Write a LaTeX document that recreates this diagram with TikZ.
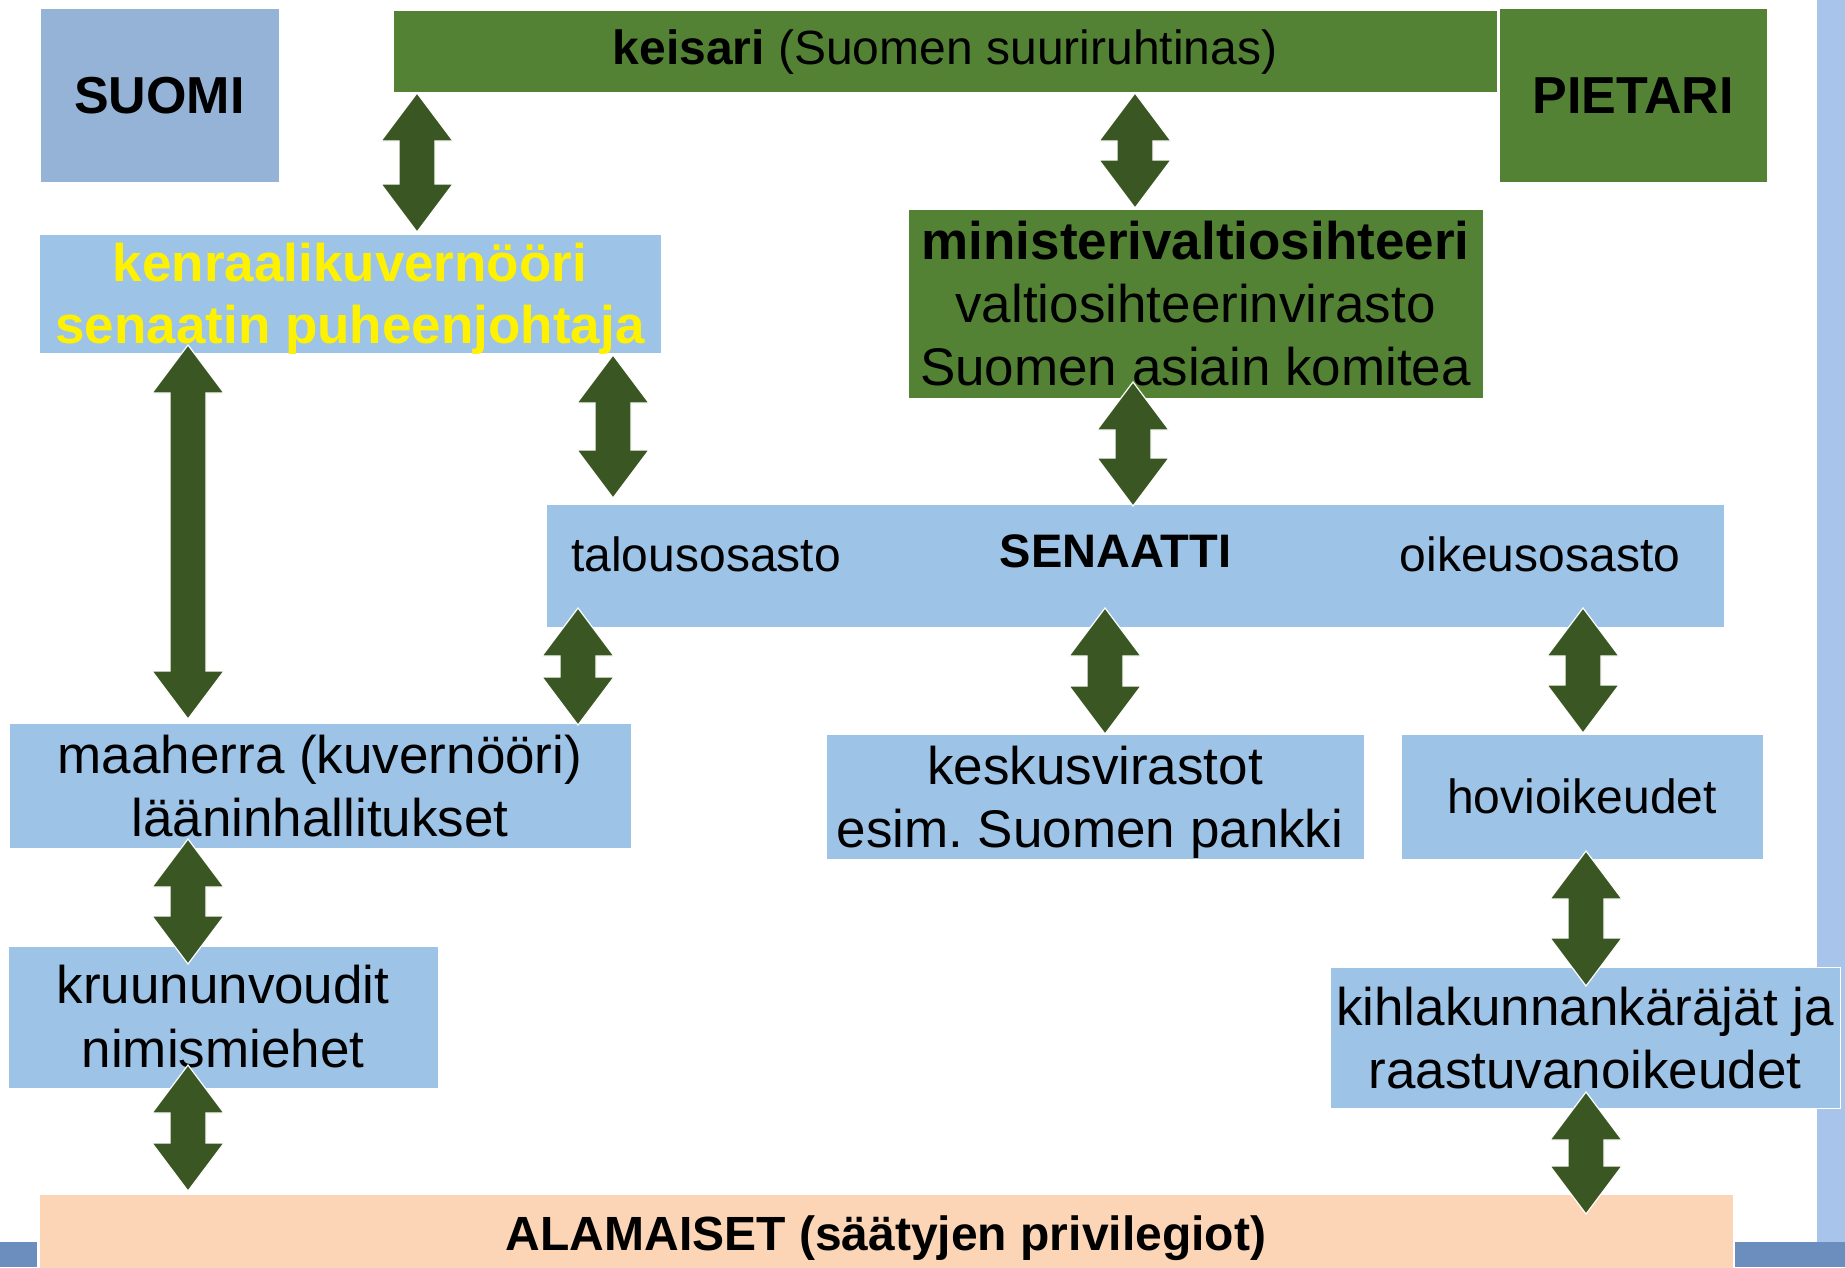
\documentclass[tikz,border=0pt]{standalone}
\usepackage{fontspec}
\setmainfont{Liberation Sans}
\usetikzlibrary{calc}
\frenchspacing
\definecolor{lblue}{HTML}{9DC3E6}
\definecolor{sblue}{HTML}{95B3D7}
\definecolor{dgreen}{HTML}{548235}
\definecolor{agreen}{HTML}{3A5723}
\definecolor{peach}{HTML}{FBD5B5}
\definecolor{stripc}{HTML}{A9C4EB}
\definecolor{dstripc}{HTML}{6B8EBE}
\newcommand\dblarr[2]{%
  \fill[arrowshape] (#1) -- ($(#1)+(36,48)$) -- ($(#1)+(18,48)$) -- ($(#2)+(18,-48)$) -- ($(#2)+(36,-48)$) -- (#2)
   -- ($(#2)+(-36,-48)$) -- ($(#2)+(-18,-48)$) -- ($(#1)+(-18,48)$) -- ($(#1)+(-36,48)$) -- cycle;}
\begin{document}
\begin{tikzpicture}[x=1pt,y=-1pt,
  boxbase/.style={draw=white,line width=1pt,anchor=north west,inner sep=0pt,outer sep=0pt},
  lbox/.style={boxbase,fill=lblue},
  sbox/.style={boxbase,fill=sblue},
  gbox/.style={boxbase,fill=dgreen},
  pbox/.style={boxbase,fill=peach},
  arrowshape/.style={fill=agreen,draw=white,line width=1.2pt,line join=miter},
  tbig/.style={anchor=base,inner sep=0pt,font=\fontsize{53}{60}\selectfont},
  tmid/.style={anchor=base,inner sep=0pt,font=\fontsize{48}{55}\selectfont},
  ttitle/.style={anchor=base,inner sep=0pt,font=\fontsize{52}{60}\selectfont\bfseries},
]
\useasboundingbox (0,0) rectangle (1845,1267);
% frame strips
\fill[stripc] (1817,0) rectangle (1845,1242);
\fill[dstripc] (1735,1242) rectangle (1845,1267);
\fill[dstripc] (0,1242) rectangle (37,1267);

% boxes
\node[sbox,minimum width=239,minimum height=174] (suomi) at (40,8) {};
\node[gbox,minimum width=1104,minimum height=82] (keisari) at (393,10) {};
\node[gbox,minimum width=268,minimum height=174] (pietari) at (1499,8) {};
\node[lbox,minimum width=622,minimum height=119] (kenraali) at (39,234) {};
\node[gbox,minimum width=575,minimum height=189] (ministeri) at (908,209) {};
\node[lbox,minimum width=1178,minimum height=123] (senaatti) at (546,504) {};
\node[lbox,minimum width=622,minimum height=125] (maaherra) at (9,723) {};
\node[lbox,minimum width=538,minimum height=125] (keskus) at (826,734) {};
\node[lbox,minimum width=362,minimum height=125] (hovi) at (1401,734) {};
\node[lbox,minimum width=430,minimum height=142] (kruunu) at (8,946) {};
\node[lbox,minimum width=510,minimum height=141] (kihla) at (1330,967) {};
\node[pbox,minimum width=1694,minimum height=80] (alamaiset) at (39,1194) {};

% texts
\node[ttitle] (suomi-t) at (159.5,113) {SUOMI};
\node[ttitle] (pietari-t) at (1633,113) {PIETARI};
\node[tmid] (keisari-t) at (945,64) {\bfseries keisari \mdseries(Suomen suuriruhtinas)};
\node[tbig,text=yellow,font=\fontsize{53}{60}\selectfont\bfseries] (ken1) at (350,281) {kenraalikuvernööri};
\node[tbig,text=yellow,font=\fontsize{53}{60}\selectfont\bfseries] (ken2) at (350,343) {senaatin puheenjohtaja};
\node[tbig,font=\fontsize{53}{60}\selectfont\bfseries] (min1) at (1195.5,259) {ministerivaltiosihteeri};
\node[tbig] (min2) at (1195.5,322) {valtiosihteerinvirasto};
\node[tbig] (min3) at (1195.5,385) {Suomen asiain komitea};
\node[tmid] (talous) at (706,571) {talousosasto};
\node[tmid,font=\fontsize{47}{55}\selectfont\bfseries] (senaatti-t) at (1115.5,567) {SENAATTI};
\node[tmid] (oikeus) at (1540,571) {oikeusosasto};
\node[tbig] (maa1) at (320,773) {maaherra (kuvernööri)};
\node[tbig] (maa2) at (320,836) {lääninhallitukset};
\node[tbig] (kes1) at (1095,784) {keskusvirastot};
\node[tbig] (kes2) at (1090,847) {esim. Suomen pankki};
\node[tmid] (hovi-t) at (1582,813) {hovioikeudet};
\node[tbig] (kru1) at (223,1003) {kruununvoudit};
\node[tbig] (kru2) at (223,1067) {nimismiehet};
\node[tbig] (kih1) at (1585,1025) {kihlakunnankäräjät ja};
\node[tbig] (kih2) at (1585,1088) {raastuvanoikeudet};
\node[tmid,font=\fontsize{48}{55}\selectfont\bfseries] (alamaiset-t) at (886,1250) {ALAMAISET (säätyjen privilegiot)};

% arrow end points
\coordinate (a1t) at (417,93);   \coordinate (a1b) at (417,232);
\coordinate (a2t) at (1135,93);  \coordinate (a2b) at (1135,208);
\coordinate (a3t) at (188,345);  \coordinate (a3b) at (188,719);
\coordinate (a4t) at (613,355);  \coordinate (a4b) at (613,498);
\coordinate (a5t) at (1133,382); \coordinate (a5b) at (1133,506);
\coordinate (a6t) at (578,608);  \coordinate (a6b) at (578,725);
\coordinate (a7t) at (1105,608); \coordinate (a7b) at (1105,734);
\coordinate (a8t) at (1583,608); \coordinate (a8b) at (1583,733);
\coordinate (a9t) at (188,839);  \coordinate (a9b) at (188,964);
\coordinate (a10t) at (188,1065); \coordinate (a10b) at (188,1191);
\coordinate (a11t) at (1586,851); \coordinate (a11b) at (1586,986);
\coordinate (a12t) at (1586,1092); \coordinate (a12b) at (1586,1214);

\dblarr{a1t}{a1b}
\dblarr{a2t}{a2b}
\dblarr{a3t}{a3b}
\dblarr{a4t}{a4b}
\dblarr{a5t}{a5b}
\dblarr{a6t}{a6b}
\dblarr{a7t}{a7b}
\dblarr{a8t}{a8b}
\dblarr{a9t}{a9b}
\dblarr{a10t}{a10b}
\dblarr{a11t}{a11b}
\dblarr{a12t}{a12b}
\end{tikzpicture}
\end{document}
